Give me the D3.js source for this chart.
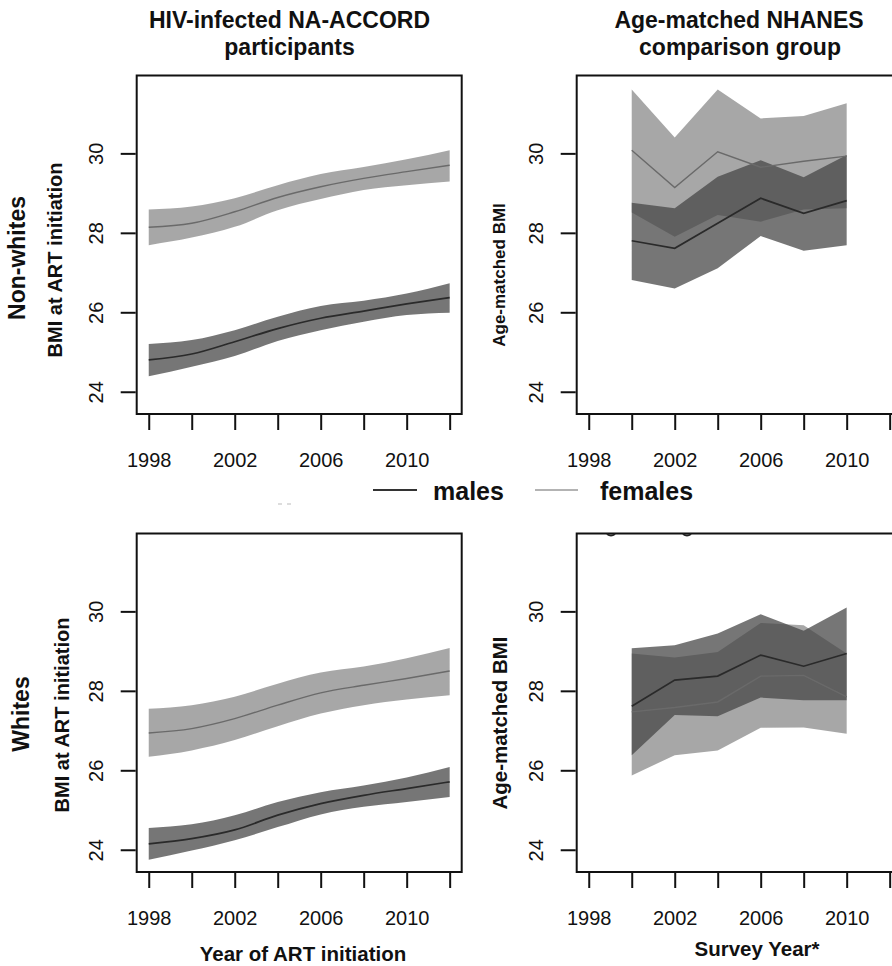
<!DOCTYPE html>
<html>
<head>
<meta charset="utf-8">
<script src="https://cdn.jsdelivr.net/npm/d3@7"></script>
<style>
  body { margin: 0; background: #fff; }
  svg { display: block; font-family: "Liberation Sans", Arial, Helvetica, sans-serif; }
</style>
</head>
<body>
<svg id="chart" width="892" height="966"></svg>
<script>
// ---- data ----
const hivYears = [1998, 2000, 2002, 2004, 2006, 2008, 2010, 2012];
const nhanesYears = [2000, 2002, 2004, 2006, 2008, 2010];
const xTicks = [1998, 2000, 2002, 2004, 2006, 2008, 2010, 2012];
const xTickLabels = [1998, 2002, 2006, 2010];
const yTicks = [24, 26, 28, 30];

// Non-whites, HIV-infected (smoothed fit + band)
const nwHivMaleFit = [24.80, 24.95, 25.26, 25.59, 25.85, 26.03, 26.21, 26.37];
const nwHivMaleLo  = [24.39, 24.63, 24.90, 25.28, 25.55, 25.76, 25.93, 25.99];
const nwHivMaleHi  = [25.20, 25.30, 25.55, 25.89, 26.16, 26.29, 26.47, 26.73];
const nwHivFemFit  = [28.14, 28.24, 28.53, 28.89, 29.16, 29.37, 29.54, 29.70];
const nwHivFemLo   = [27.69, 27.88, 28.15, 28.57, 28.85, 29.08, 29.20, 29.29];
const nwHivFemHi   = [28.59, 28.66, 28.87, 29.20, 29.48, 29.66, 29.85, 30.08];

// Whites, HIV-infected
const wHivMaleFit = [24.15, 24.28, 24.50, 24.87, 25.16, 25.37, 25.54, 25.71];
const wHivMaleLo  = [23.75, 23.98, 24.24, 24.57, 24.89, 25.08, 25.20, 25.33];
const wHivMaleHi  = [24.55, 24.64, 24.87, 25.20, 25.45, 25.62, 25.82, 26.08];
const wHivFemFit  = [26.94, 27.05, 27.30, 27.64, 27.95, 28.14, 28.31, 28.50];
const wHivFemLo   = [26.34, 26.50, 26.76, 27.11, 27.43, 27.64, 27.78, 27.89];
const wHivFemHi   = [27.55, 27.64, 27.85, 28.18, 28.46, 28.61, 28.82, 29.08];

// Non-whites, NHANES
const nwNhMaleFit = [27.80, 27.61, 28.24, 28.87, 28.49, 28.81];
const nwNhMaleLo  = [26.81, 26.60, 27.11, 27.92, 27.55, 27.69];
const nwNhMaleHi  = [28.76, 28.62, 29.41, 29.83, 29.40, 29.96];
const nwNhFemFit  = [30.08, 29.14, 30.04, 29.65, 29.80, 29.93];
const nwNhFemLo   = [28.51, 27.90, 28.45, 28.28, 28.59, 28.62];
const nwNhFemHi   = [31.61, 30.40, 31.61, 30.88, 30.94, 31.26];

// Whites, NHANES
const wNhMaleFit = [27.61, 28.27, 28.37, 28.90, 28.62, 28.94];
const wNhMaleLo  = [26.38, 27.39, 27.36, 27.83, 27.76, 27.76];
const wNhMaleHi  = [29.07, 29.15, 29.44, 29.93, 29.51, 30.10];
const wNhFemFit  = [27.47, 27.58, 27.72, 28.37, 28.39, 27.85];
const wNhFemLo   = [25.87, 26.38, 26.50, 27.07, 27.08, 26.92];
const wNhFemHi   = [28.94, 28.84, 28.98, 29.71, 29.65, 28.94];

// ---- layout ----
const svg = d3.select("#chart");
const plotW = 325, plotH = 338.5;
const xDomain = [1997.44, 2012.56];
const yDomain = [23.44, 31.96];

const panels = [
  { left: 136.7, top: 75.5, years: hivYears, smooth: true,
    male: [nwHivMaleFit, nwHivMaleLo, nwHivMaleHi], fem: [nwHivFemFit, nwHivFemLo, nwHivFemHi],
    ylab: "BMI at ART initiation", ylabX: -75, ylabY: 260, ylabSize: 20 },
  { left: 576.7, top: 75.5, years: nhanesYears, smooth: false,
    male: [nwNhMaleFit, nwNhMaleLo, nwNhMaleHi], fem: [nwNhFemFit, nwNhFemLo, nwNhFemHi],
    ylab: "Age-matched BMI", ylabX: -72, ylabY: 275, ylabSize: 17 },
  { left: 136.7, top: 533.5, years: hivYears, smooth: true,
    male: [wHivMaleFit, wHivMaleLo, wHivMaleHi], fem: [wHivFemFit, wHivFemLo, wHivFemHi],
    ylab: "BMI at ART initiation", ylabX: -68, ylabY: 715, ylabSize: 20 },
  { left: 576.7, top: 533.5, years: nhanesYears, smooth: false,
    male: [wNhMaleFit, wNhMaleLo, wNhMaleHi], fem: [wNhFemFit, wNhFemLo, wNhFemHi],
    ylab: "Age-matched BMI", ylabX: -70, ylabY: 723, ylabSize: 20.5 }
];

const femFill = "#8c8c8c", femOpacity = 0.77;
const maleFill = "#464646", maleOpacity = 0.74;

panels.forEach(p => {
  const x = d3.scaleLinear().domain(xDomain).range([0, plotW]);
  const y = d3.scaleLinear().domain(yDomain).range([plotH, 0]);
  const g = svg.append("g").attr("transform", `translate(${p.left},${p.top})`);
  const curve = p.smooth ? d3.curveMonotoneX : d3.curveLinear;

  const area = d3.area()
    .x(d => x(d.yr)).y0(d => y(d.lo)).y1(d => y(d.hi)).curve(curve);
  const line = d3.line()
    .x(d => x(d.yr)).y(d => y(d.fit)).curve(curve);

  const rows = s => p.years.map((yr, i) => ({ yr, fit: s[0][i], lo: s[1][i], hi: s[2][i] }));
  const femRows = rows(p.fem), maleRows = rows(p.male);

  // bands: females first, males on top
  g.append("path").attr("d", area(femRows)).attr("fill", femFill).attr("fill-opacity", femOpacity);
  g.append("path").attr("d", area(maleRows)).attr("fill", maleFill).attr("fill-opacity", maleOpacity);
  g.append("path").attr("d", line(femRows)).attr("fill", "none")
    .attr("stroke", "#6a6a6a").attr("stroke-width", 1.4);
  g.append("path").attr("d", line(maleRows)).attr("fill", "none")
    .attr("stroke", "#2a2a2a").attr("stroke-width", 1.7);

  // box
  g.append("rect").attr("width", plotW).attr("height", plotH)
    .attr("fill", "none").attr("stroke", "#111").attr("stroke-width", 2);

  // x axis
  const xAxis = g.append("g").attr("transform", `translate(0,${plotH + 1})`)
    .call(d3.axisBottom(x).tickValues(xTicks).tickSize(15).tickPadding(22.5)
      .tickFormat(d => xTickLabels.includes(d) ? d : ""));
  xAxis.select(".domain").remove();
  xAxis.selectAll("line").attr("stroke", "#111").attr("stroke-width", 2);
  xAxis.selectAll("text").attr("font-size", 20).attr("fill", "#111")
    .attr("font-family", "Liberation Sans, Arial, sans-serif");

  // y axis (labels rotated like R's las=0)
  const yAxis = g.append("g").attr("transform", "translate(-1,0)")
    .call(d3.axisLeft(y).tickValues(yTicks).tickSize(15));
  yAxis.select(".domain").remove();
  yAxis.selectAll("line").attr("stroke", "#111").attr("stroke-width", 2);
  yAxis.selectAll("text")
    .attr("x", null).attr("dy", null)
    .attr("transform", "translate(-33,0) rotate(-90)")
    .attr("text-anchor", "middle")
    .attr("font-size", 20).attr("fill", "#111")
    .attr("font-family", "Liberation Sans, Arial, sans-serif");

  // y label
  svg.append("text")
    .attr("transform", `translate(${p.left + p.ylabX},${p.ylabY}) rotate(-90)`)
    .attr("text-anchor", "middle").attr("font-weight", "bold")
    .attr("font-size", p.ylabSize).attr("fill", "#111")
    .text(p.ylab);
});

// column titles
const titleLines = [
  ["HIV-infected NA-ACCORD", 289.5, 28], ["participants", 289.5, 55],
  ["Age-matched NHANES", 739, 28], ["comparison group", 740, 55]
];
titleLines.forEach(([t, tx, ty]) => {
  svg.append("text").attr("x", tx).attr("y", ty).attr("text-anchor", "middle")
    .attr("font-weight", "bold").attr("font-size", 23).attr("fill", "#111").text(t);
});

// row labels
[["Non-whites", 25, 258], ["Whites", 29, 714]].forEach(([t, tx, ty]) => {
  svg.append("text").attr("transform", `translate(${tx},${ty}) rotate(-90)`)
    .attr("text-anchor", "middle").attr("font-weight", "bold")
    .attr("font-size", 23).attr("fill", "#111").text(t);
});

// x axis titles
svg.append("text").attr("x", 303).attr("y", 961).attr("text-anchor", "middle")
  .attr("font-weight", "bold").attr("font-size", 20.5).attr("fill", "#111")
  .text("Year of ART initiation");
svg.append("text").attr("x", 757).attr("y", 956).attr("text-anchor", "middle")
  .attr("font-weight", "bold").attr("font-size", 20.5).attr("fill", "#111")
  .text("Survey Year*");

// legend
const legend = svg.append("g");
legend.append("line").attr("x1", 373).attr("x2", 417).attr("y1", 490).attr("y2", 490)
  .attr("stroke", "#333").attr("stroke-width", 2);
legend.append("text").attr("x", 433).attr("y", 499.5).attr("font-weight", "bold")
  .attr("font-size", 25).attr("fill", "#111").text("males");
legend.append("line").attr("x1", 535).attr("x2", 578).attr("y1", 490).attr("y2", 490)
  .attr("stroke", "#9a9a9a").attr("stroke-width", 1.6);
legend.append("text").attr("x", 600).attr("y", 499.5).attr("font-weight", "bold")
  .attr("font-size", 25).attr("fill", "#111").text("females");

// leftover scan marks from the cropped source figure
svg.append("path").attr("d", "M278,504h4M287,504h4")
  .attr("stroke", "#bbb").attr("stroke-width", 1.2);
svg.append("path").attr("d", "M607,534q4,3 8,0M683,534q4,3 8,0")
  .attr("fill", "none").attr("stroke", "#222").attr("stroke-width", 2);
</script>
</body>
</html>
